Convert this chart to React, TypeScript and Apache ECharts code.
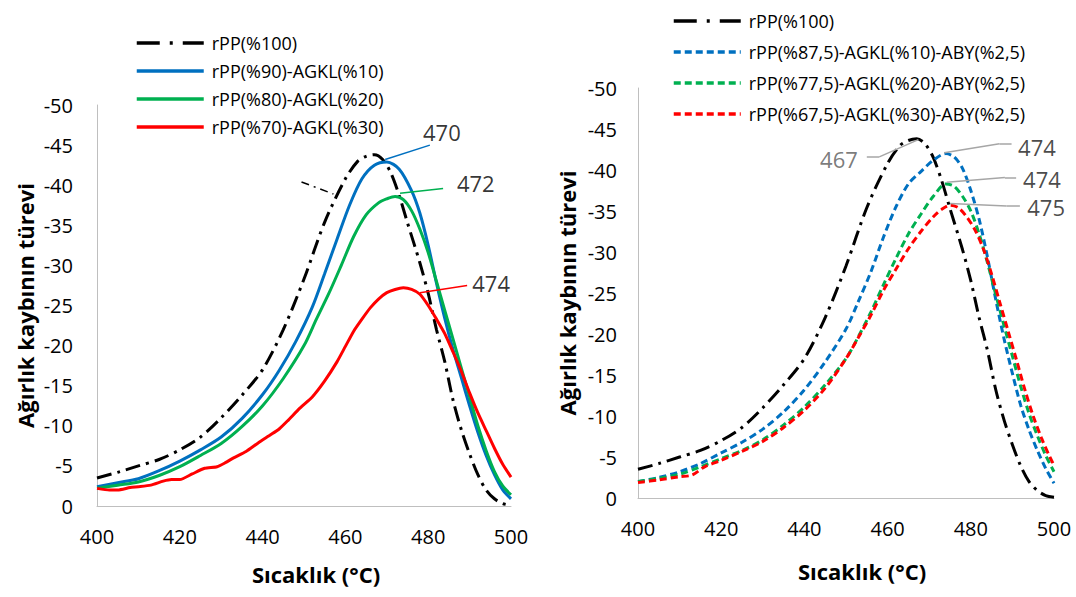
import React, { useEffect, useRef } from "react";
import * as echarts from "echarts";

const FONT = "'Open Sans', 'Noto Sans', sans-serif";

// ---------- axis ranges ----------
const xMin = 400;
const xMax = 500;
const xStep = 20;
const yMin = -50;
const yMax = 0;
const yStep = 5;

// ---------- shared rPP(%100) curve ----------
const rppT = [400, 405, 410, 415, 420, 425, 430, 435, 440, 445, 450, 455, 460, 463, 465, 467, 469, 471, 473, 475, 478, 480, 482, 484, 486, 488, 490, 492, 494, 496, 498, 500];
const rppV = [-3.5, -4.2, -5.0, -5.8, -7.0, -8.6, -11.0, -13.8, -17.0, -22.0, -28.3, -35.4, -40.8, -43.0, -43.6, -43.8, -43.2, -41.5, -38.7, -35.3, -30.3, -26.5, -22.0, -18.0, -13.2, -9.5, -6.5, -3.9, -2.0, -0.9, -0.3, -0.1];

// ---------- left panel ----------
const blueLT = [400, 405, 410, 415, 420, 425, 430, 435, 440, 444, 448, 452, 455, 458, 461, 464, 467, 470, 473, 476, 478, 480, 482, 484, 486, 488, 490, 492, 494, 496, 498, 500];
const blueLV = [-2.4, -2.9, -3.4, -4.4, -5.6, -7.0, -8.6, -10.9, -13.9, -16.9, -20.5, -24.8, -29.0, -33.3, -37.5, -40.8, -42.5, -42.9, -42.0, -39.3, -36.5, -32.5, -27.8, -23.4, -19.5, -16.0, -12.5, -9.2, -6.3, -3.9, -2.0, -0.9];

const greenLT = [400, 405, 410, 415, 420, 425, 430, 435, 440, 445, 450, 453, 456, 459, 462, 465, 468, 470, 472, 474, 476, 478, 480, 482, 484, 486, 488, 490, 492, 494, 496, 498, 500];
const greenLV = [-2.2, -2.6, -3.0, -3.8, -4.9, -6.3, -7.8, -9.9, -12.5, -15.9, -20.0, -23.3, -26.5, -30.0, -33.6, -36.3, -37.8, -38.3, -38.6, -38.2, -36.8, -34.5, -31.6, -28.0, -24.4, -20.8, -17.2, -13.6, -10.0, -6.9, -4.3, -2.5, -1.4];

const redLT = [400, 403, 405, 408, 410, 413, 416, 418, 420, 423, 426, 429, 431, 433, 436, 439, 442, 444, 446, 449, 452, 455, 458, 460, 462, 464, 466, 468, 470, 472, 474, 476, 478, 480, 482, 484, 486, 488, 490, 492, 494, 496, 498, 500];
const redLV = [-2.2, -2.0, -2.0, -2.3, -2.4, -2.6, -3.1, -3.3, -3.3, -4.0, -4.7, -4.9, -5.4, -6.0, -6.8, -7.9, -8.9, -9.6, -10.6, -12.2, -13.6, -15.6, -18.0, -19.9, -21.8, -23.3, -24.7, -25.8, -26.6, -27.0, -27.2, -27.0, -26.4, -25.0, -23.3, -21.5, -19.2, -16.8, -14.1, -11.6, -9.4, -7.2, -5.2, -3.6];

// ---------- right panel ----------
const blueRT = [400, 405, 410, 415, 420, 425, 430, 435, 440, 445, 450, 453, 456, 459, 462, 465, 468, 471, 474, 476, 478, 480, 482, 484, 486, 488, 490, 492, 494, 496, 498, 500];
const blueRV = [-2.0, -2.5, -3.2, -4.2, -5.5, -6.8, -8.4, -10.5, -13.2, -16.6, -20.6, -24.0, -27.6, -31.8, -35.5, -38.3, -39.8, -41.2, -42.0, -41.6, -40.2, -37.5, -34.0, -29.4, -24.2, -19.4, -15.2, -11.3, -8.3, -5.8, -3.6, -1.8];

const greenRT = [400, 405, 410, 415, 420, 425, 430, 435, 440, 445, 450, 453, 456, 459, 462, 465, 468, 471, 474, 476, 478, 480, 482, 484, 486, 488, 490, 492, 494, 496, 498, 500];
const greenRV = [-2.0, -2.4, -2.9, -3.8, -4.8, -5.8, -7.1, -8.9, -11.1, -13.8, -17.0, -19.7, -22.7, -26.0, -29.2, -32.2, -34.6, -36.8, -38.3, -38.0, -36.8, -35.0, -32.2, -28.7, -24.8, -21.0, -17.3, -13.6, -10.3, -7.6, -5.2, -3.2];

const redRT = [400, 405, 410, 413, 416, 420, 425, 430, 435, 440, 445, 450, 453, 456, 459, 462, 465, 468, 471, 473, 475, 477, 479, 481, 483, 485, 487, 489, 491, 493, 495, 497, 499, 500];
const redRV = [-1.9, -2.2, -2.6, -2.8, -3.8, -4.6, -5.7, -6.9, -8.6, -10.7, -13.4, -17.0, -19.6, -22.3, -25.3, -27.9, -30.4, -32.5, -34.3, -35.2, -35.7, -35.4, -34.3, -32.7, -30.4, -27.3, -23.8, -20.3, -16.8, -13.2, -10.0, -7.3, -5.0, -4.0];

// ---------- series names ----------
const nameRPP = "rPP(%100)";
const namesLeft = ["rPP(%90)-AGKL(%10)", "rPP(%80)-AGKL(%20)", "rPP(%70)-AGKL(%30)"];
const namesRight = ["rPP(%87,5)-AGKL(%10)-ABY(%2,5)", "rPP(%77,5)-AGKL(%20)-ABY(%2,5)", "rPP(%67,5)-AGKL(%30)-ABY(%2,5)"];

// ---------- peak annotations (data coordinates) ----------
const annLeftText = ["470", "472", "474"];
const annLeftT = [483.3, 491.5, 495.2];
const annLeftV = [-46.6, -40.3, -27.8];

const annRightGrayText = ["467"];
const annRightGrayT = [448.3];
const annRightGrayV = [-41.4];

const annRightText = ["474", "474", "475"];
const annRightT = [495.9, 497.1, 498.1];
const annRightV = [-42.8, -38.9, -35.5];

// leader lines (data coordinates)
const leadBlueL = [[469.6, -43.2], [480.4, -45.0]];
const leadGreenL = [[473.2, -39.0], [483.6, -39.6]];
const leadRedL = [[478.0, -26.6], [489.4, -27.5]];
const leadStrayL = [[449.4, -40.4], [457.1, -38.9]];

const leadBlackR = [[455.0, -41.6], [458.0, -41.6], [467.4, -43.7]];
const leadBlueR = [[473.6, -42.1], [486.9, -43.2], [489.8, -43.2]];
const leadGreenR = [[474.2, -38.5], [488.2, -39.1], [490.9, -39.1]];
const leadRedR = [[475.0, -35.9], [488.6, -35.6], [491.8, -35.6]];

const BLUE = "#0070C0";
const GREEN = "#00B050";
const RED = "#FF0000";
const GRAY_LEAD = "#A6A6A6";
const DASH_DOT = [15, 6, 3, 6];
const DASH = [7, 4];

const pairs = (t: number[], v: number[]) => t.map((x, i) => [x, v[i]]);

const leader = (pts: number[][], style: any) => ({
  silent: true,
  symbol: ["none", "none"],
  label: { show: false },
  emphasis: { disabled: true },
  lineStyle: style,
  data: pts.slice(0, -1).map((p, i) => [{ coord: p }, { coord: pts[i + 1] }]),
});

const lineSeries = (name: string, idx: number, t: number[], v: number[], color: string, type: any, smooth: number, mark?: any) => ({
  name,
  type: "line",
  xAxisIndex: idx,
  yAxisIndex: idx,
  data: pairs(t, v),
  symbol: "none",
  showSymbol: false,
  smooth,
  lineStyle: { color, width: 3, type, cap: "butt" },
  itemStyle: { color },
  emphasis: { disabled: true },
  markLine: mark,
  z: 3,
});

const annSeries = (idx: number, t: number[], v: number[], text: string[], color: string) => ({
  type: "scatter",
  xAxisIndex: idx,
  yAxisIndex: idx,
  symbolSize: 1,
  itemStyle: { color: "transparent" },
  silent: true,
  z: 5,
  data: t.map((x, i) => ({ value: [x, v[i]], name: text[i] })),
  label: {
    show: true,
    position: "inside",
    formatter: "{b}",
    fontFamily: FONT,
    fontSize: 22,
    color,
    textBorderWidth: 0,
  },
});

const xAxisBase = (idx: number, nameGap: number, padLeft: number) => ({
  type: "value",
  gridIndex: idx,
  min: xMin,
  max: xMax,
  interval: xStep,
  name: "Sıcaklık (°C)",
  nameLocation: "middle",
  nameGap,
  nameTextStyle: { fontFamily: FONT, fontSize: 22, fontWeight: "bold", color: "#000", padding: [0, 0, 0, padLeft] },
  axisLine: { show: true, onZero: false, lineStyle: { color: "#BFBFBF", width: 1 } },
  axisTick: { show: false },
  splitLine: { show: false },
  axisLabel: { fontFamily: FONT, fontSize: 20, color: "#000", margin: 20 },
});

const yAxisBase = (idx: number, nameGap: number, margin: number) => ({
  type: "value",
  gridIndex: idx,
  min: yMin,
  max: yMax,
  interval: yStep,
  inverse: true,
  name: "Ağırlık kaybının türevi",
  nameLocation: "middle",
  nameRotate: 90,
  nameGap,
  nameTextStyle: { fontFamily: FONT, fontSize: 22, fontWeight: "bold", color: "#000" },
  axisLine: { show: true, lineStyle: { color: "#BFBFBF", width: 1 } },
  axisTick: { show: false },
  splitLine: { show: false },
  axisLabel: { fontFamily: FONT, fontSize: 20, color: "#000", margin },
});

const legendBase = (left: number, top: number, gap: number, names: string[]) => ({
  orient: "vertical",
  left,
  top,
  itemWidth: 67,
  itemHeight: 14,
  itemGap: gap,
  selectedMode: false,
  itemStyle: { color: "transparent", borderColor: "transparent", borderWidth: 0 },
  lineStyle: { width: 3.5 },
  textStyle: { fontFamily: FONT, fontSize: 18, color: "#000", padding: [0, 0, 0, 3] },
  data: [
    { name: nameRPP, lineStyle: { type: [23, 10, 3, 10], width: 3.5, color: "#000" } },
    ...names.map((n) => ({ name: n })),
  ],
});

export default function App() {
  const ref = useRef<HTMLDivElement>(null);
  useEffect(() => {
    if (!ref.current) return;
    const chart = echarts.init(ref.current, undefined, { renderer: "svg" });
    const option: any = {
      animation: false,
      backgroundColor: "#FFFFFF",
      textStyle: { fontFamily: FONT },
      grid: [
        { left: 97, top: 105, width: 414, height: 401, containLabel: false },
        { left: 638, top: 88, width: 416, height: 410, containLabel: false },
      ],
      xAxis: [xAxisBase(0, 57, 24), xAxisBase(1, 62, 32)],
      yAxis: [yAxisBase(0, 61, 24), yAxisBase(1, 60, 21)],
      legend: [
        legendBase(130, 29, 10, namesLeft),
        legendBase(667, 7, 13, namesRight),
      ],
      series: [
        lineSeries(nameRPP, 0, rppT, rppV, "#000", DASH_DOT, 0.3, leader(leadStrayL, { color: "#000", width: 1.5, type: [8, 5, 2, 5] })),
        lineSeries(namesLeft[0], 0, blueLT, blueLV, BLUE, "solid", 0.3, leader(leadBlueL, { color: BLUE, width: 1.5, type: "solid" })),
        lineSeries(namesLeft[1], 0, greenLT, greenLV, GREEN, "solid", 0.3, leader(leadGreenL, { color: GREEN, width: 1.5, type: "solid" })),
        lineSeries(namesLeft[2], 0, redLT, redLV, RED, "solid", 0.2, leader(leadRedL, { color: RED, width: 1.5, type: "solid" })),
        annSeries(0, annLeftT, annLeftV, annLeftText, "#000000"),

        lineSeries(nameRPP, 1, rppT, rppV, "#000", DASH_DOT, 0.3, leader(leadBlackR, { color: GRAY_LEAD, width: 1.5, type: "solid" })),
        lineSeries(namesRight[0], 1, blueRT, blueRV, BLUE, DASH, 0.3, leader(leadBlueR, { color: GRAY_LEAD, width: 1.5, type: "solid" })),
        lineSeries(namesRight[1], 1, greenRT, greenRV, GREEN, DASH, 0.3, leader(leadGreenR, { color: GRAY_LEAD, width: 1.5, type: "solid" })),
        lineSeries(namesRight[2], 1, redRT, redRV, RED, DASH, 0.3, leader(leadRedR, { color: GRAY_LEAD, width: 1.5, type: "solid" })),
        annSeries(1, annRightGrayT, annRightGrayV, annRightGrayText, "#595959"),
        annSeries(1, annRightT, annRightV, annRightText, "#1a1a1a"),
      ],
    };
    chart.setOption(option);
    return () => chart.dispose();
  }, []);
  return (
    <div
      ref={ref}
      style={{ position: "fixed", left: 0, top: 0, width: 1076, height: 597, background: "#fff" }}
    />
  );
}
